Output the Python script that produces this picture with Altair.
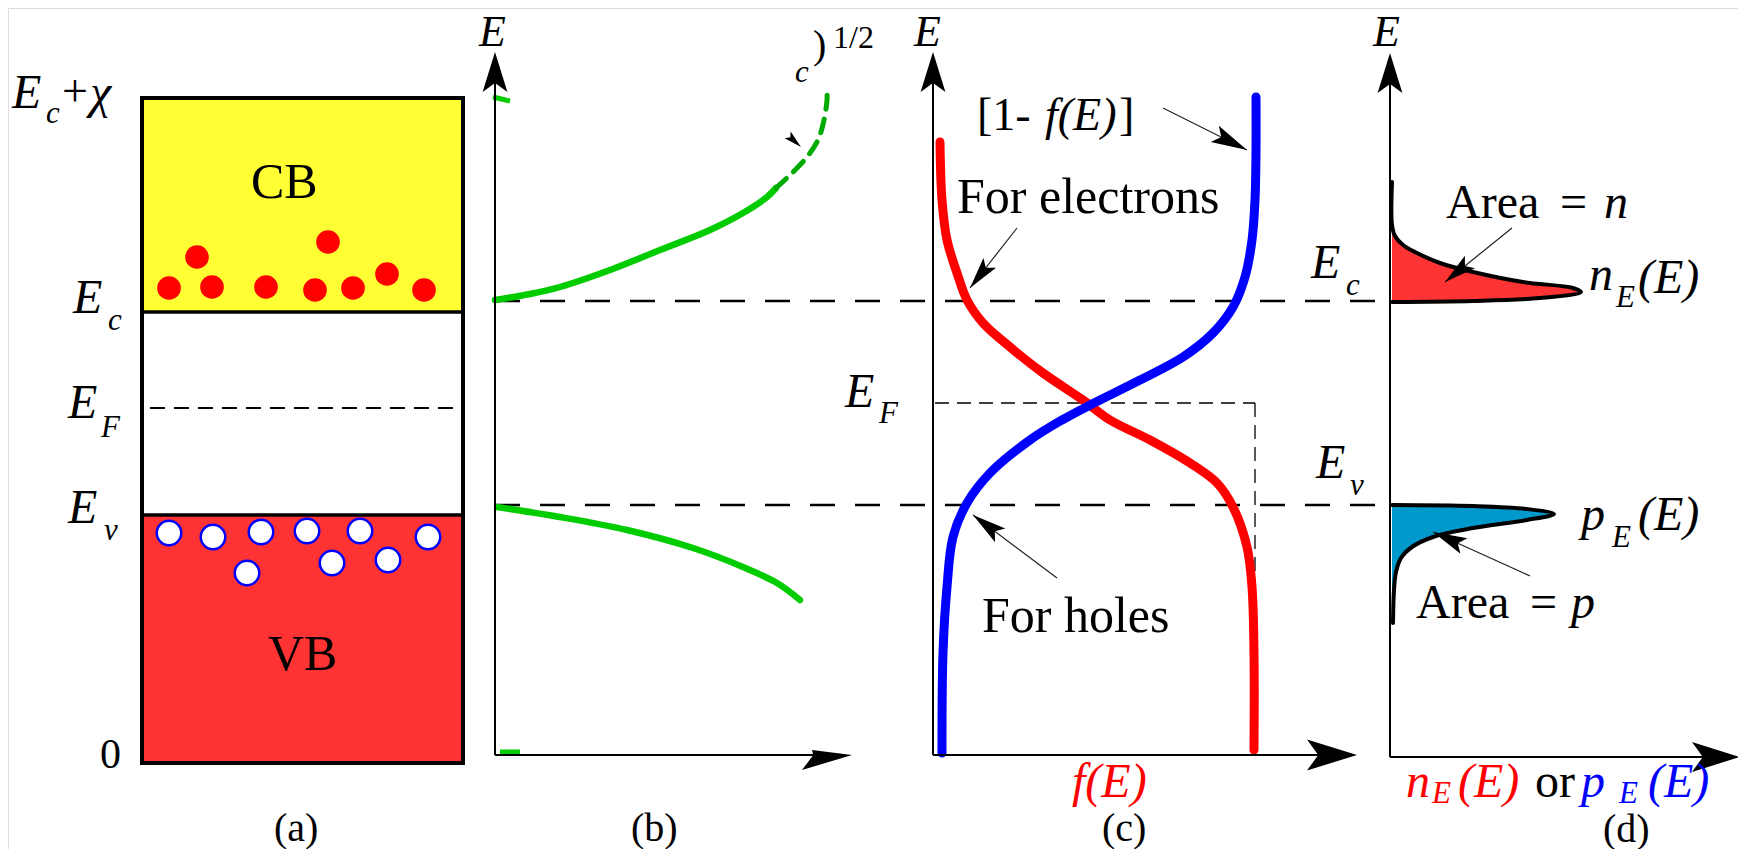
import math
import altair as alt
import pandas as pd

# ---------------- values (figure units, y pointing down) ----------------
# (a) band diagram: electrons in the CB, holes in the VB
electron_x = [169, 197, 212, 266, 315, 328, 353, 387, 424]
electron_y = [288, 257, 287, 287, 290, 242, 288, 274, 290]
hole_x = [169, 213, 261, 307, 360, 428, 247, 332, 388]
hole_y = [533, 537, 532, 531, 531, 537, 573, 563, 560]

# (b) density of states g(E)
gc_solid_x = [495, 530, 560, 610, 660, 710, 743, 767, 776]
gc_solid_y = [300, 294, 287, 270, 250, 230, 213, 197, 188]
gc_dash_x = [776, 790, 807, 818, 824, 827, 827]
gc_dash_y = [188, 175, 157, 140, 120, 100, 90]
gv_x = [497, 560, 627, 693, 743, 777, 800]
gv_y = [507, 517, 530, 548, 567, 583, 600]

# (c) Fermi-Dirac f(E) and 1 - f(E)
fe_x = [940, 942, 947, 957, 967, 983, 1010, 1043, 1083, 1110, 1150, 1190, 1217, 1233, 1247, 1252, 1254, 1254]
fe_y = [142, 200, 240, 273, 300, 323, 347, 373, 400, 420, 440, 463, 483, 507, 547, 587, 653, 750]
fh_x = [1256, 1256, 1255, 1252, 1245, 1233, 1213, 1183, 1140, 1092, 1062, 1030, 990, 967, 953, 947, 943, 942]
fh_y = [97, 150, 200, 240, 277, 307, 333, 357, 380, 404, 420, 440, 473, 503, 537, 587, 653, 753]

# (d) carrier distributions n_E(E), p_E(E)
nE_x = [1392, 1392, 1395, 1403, 1415, 1440, 1473, 1523, 1573, 1581, 1540, 1473, 1392]
nE_y = [182, 225, 236, 245, 252, 263, 272, 282, 288, 292, 298, 301, 302]
pE_x = [1392, 1473, 1527, 1554, 1527, 1473, 1433, 1412, 1401, 1396, 1394, 1393]
pE_y = [505, 506, 509, 514, 520, 528, 537, 547, 558, 572, 590, 623]

# ---------------- layout ----------------
FONT = "Liberation Serif"
W, H = 1730, 841
xs = alt.Scale(domain=[8, 8 + W], nice=False, zero=False)
ys = alt.Scale(domain=[8, 8 + H], nice=False, zero=False, reverse=True)


def X(f):
    return alt.X(f, type="quantitative", scale=xs, axis=None)


def Y(f):
    return alt.Y(f, type="quantitative", scale=ys, axis=None)


layers = []

# band box fills
box = pd.DataFrame({
    "x1": [142, 142, 142], "x2": [463, 463, 463],
    "y1": [98, 312, 515], "y2": [312, 515, 763],
    "fill": ["#ffff33", "#ffffff", "#ff3333"],
})
layers.append(alt.Chart(box).mark_rect().encode(
    x=X("x1"), x2="x2", y=Y("y1"), y2="y2", color=alt.Color("fill:N", scale=None)))

# electrons and holes
layers.append(alt.Chart(pd.DataFrame({"x": electron_x, "y": electron_y})).mark_point(
    shape="circle", filled=True, color="#ff0000", size=560, opacity=1).encode(x=X("x"), y=Y("y")))
layers.append(alt.Chart(pd.DataFrame({"x": hole_x, "y": hole_y})).mark_point(
    shape="circle", filled=True, fill="#ffffff", stroke="#0000ff", strokeWidth=2.5, size=600,
    opacity=1).encode(x=X("x"), y=Y("y")))

# box outline
layers.append(alt.Chart(pd.DataFrame({"x1": [142], "x2": [463], "y1": [98], "y2": [763]})).mark_rect(
    fillOpacity=0, stroke="black", strokeWidth=4).encode(x=X("x1"), x2="x2", y=Y("y1"), y2="y2"))


def segs(rows):
    return pd.DataFrame(rows, columns=["x1", "y1", "x2", "y2"])


def rule_layer(rows, **kw):
    return alt.Chart(segs(rows)).mark_rule(**kw).encode(x=X("x1"), y=Y("y1"), x2="x2", y2="y2")


# band edges in the box
layers.append(rule_layer([(142, 312, 463, 312), (142, 515, 463, 515)], color="black", strokeWidth=3.5))
layers.append(rule_layer([(150, 408, 460, 408)], color="black", strokeWidth=2, strokeDash=[15, 9]))
# long dashed Ec / Ev lines
layers.append(rule_layer([(495, 301, 1390, 301), (495, 505, 1390, 505)], color="black",
                         strokeWidth=2.5, strokeDash=[25, 20]))
# thin EF guide in (c)
layers.append(rule_layer([(935, 403, 1255, 403), (1255, 403, 1255, 755)], color="black",
                         strokeWidth=1.3, strokeDash=[14, 8]))


def curve_df(xv, yv):
    return pd.DataFrame({"x": xv, "y": yv, "i": list(range(len(xv)))})


def curve(xv, yv, interp="catmull-rom", **kw):
    return alt.Chart(curve_df(xv, yv)).mark_line(strokeCap="round", strokeJoin="round",
                                                 interpolate=interp, **kw).encode(
        x=X("x"), y=Y("y"), order=alt.Order("i:Q"))


# (d) filled areas
layers.append(alt.Chart(pd.DataFrame({"x": nE_x[1:], "y": nE_y[1:], "a": [1392] * (len(nE_x) - 1)}))
              .mark_area(orient="horizontal", color="#ff3333", opacity=1, interpolate="catmull-rom")
              .encode(y=Y("y"), x=X("x"), x2="a"))
layers.append(alt.Chart(pd.DataFrame({"x": pE_x[:-1], "y": pE_y[:-1], "a": [1392] * (len(pE_x) - 1)}))
              .mark_area(orient="horizontal", color="#0099cc", opacity=1, interpolate="catmull-rom")
              .encode(y=Y("y"), x=X("x"), x2="a"))

# curves
layers.append(curve(gc_solid_x, gc_solid_y, color="#00cc00", strokeWidth=6.5))
layers.append(curve(gc_dash_x, gc_dash_y, color="#00aa00", strokeWidth=5, strokeDash=[14, 10]))
layers.append(curve(gv_x, gv_y, color="#00cc00", strokeWidth=6.5))
layers.append(rule_layer([(493, 97, 510, 101), (500, 752, 520, 752)], color="#00cc00", strokeWidth=5))
layers.append(curve(fe_x, fe_y, color="#ff0000", strokeWidth=9))
layers.append(curve(fh_x, fh_y, color="#0000ff", strokeWidth=9))
layers.append(curve(nE_x, nE_y, color="black", strokeWidth=4))
layers.append(curve(pE_x, pE_y, color="black", strokeWidth=4))

# axes
layers.append(rule_layer([
    (495, 80, 495, 755), (495, 755, 830, 755),
    (933, 80, 933, 755), (933, 755, 1330, 755),
    (1390, 80, 1390, 757), (1390, 757, 1715, 757),
], color="black", strokeWidth=2))

# annotation arrows (start -> tip, head length)
annot = [
    (1163, 108, 1247, 150, 36),
    (1017, 228, 970, 288, 32),
    (1057, 578, 973, 515, 34),
    (1512, 228, 1445, 282, 32),
    (1530, 576, 1433, 532, 34),
]
layers.append(rule_layer([(a[0], a[1], a[2], a[3]) for a in annot], color="#222222", strokeWidth=1.2))


def head_rows(items):
    rows = []
    for (tx, ty, dx, dy, L) in items:
        n = math.hypot(dx, dy)
        ux, uy = dx / n, dy / n
        ang = math.degrees(math.atan2(ux, -uy)) % 360
        rows.append({"x": tx - ux * L / 2, "y": ty - uy * L / 2, "angle": ang, "size": L * L})
    return pd.DataFrame(rows)


def head_layer(items, shape):
    return alt.Chart(head_rows(items)).mark_point(shape=shape, filled=True, color="black", opacity=1,
                                                  strokeWidth=0).encode(
        x=X("x"), y=Y("y"), angle=alt.Angle("angle:Q", scale=None), size=alt.Size("size:Q", scale=None))


ARROW = "M0,-1L0.62,1L0,0.55L-0.62,1Z"
THIN = "M0,-1L0.5,1L0,0.6L-0.5,1Z"
HARPOON = "M0,-1L0.6,1L0,0.55L-0.2,0.6Z"
layers.append(head_layer([
    (495, 52, 0, -1, 40), (933, 52, 0, -1, 40), (1390, 53, 0, -1, 40),
    (1357, 755, 1, 0, 50), (1740, 757, 1, 0, 48),
], ARROW))
layers.append(head_layer([(852, 755, 1, 0, 50)], HARPOON))
layers.append(head_layer([(a[2], a[3], a[2] - a[0], a[3] - a[1], a[4]) for a in annot]
                         + [(801, 147, 1, 0.9, 18)], THIN))

# text labels: (text, x, baseline y, size, colour, italic)
BK, RD, BL = "#000000", "#ff0000", "#0000ff"
B, S = 48, 31
labels = [
    ("E", 12, 108, B, BK, True), ("c", 46, 123, S, BK, True), ("+", 62, 106, 46, BK, False),
    ("χ", 90, 108, B, BK, True),
    ("CB", 251, 198, 50, BK, False),
    ("E", 73, 313, B, BK, True), ("c", 108, 330, S, BK, True),
    ("E", 68, 418, B, BK, True), ("F", 101, 437, S, BK, True),
    ("E", 68, 523, B, BK, True), ("v", 104, 540, S, BK, True),
    ("VB", 268, 670, 50, BK, False),
    ("0", 100, 768, 42, BK, False),
    ("(a)", 274, 841, 40, BK, False),
    ("E", 479, 46, 44, BK, True),
    ("c", 795, 82, S, BK, True), (")", 813, 58, 40, BK, False), ("1/2", 833, 48, 32, BK, False),
    ("(b)", 631, 841, 40, BK, False),
    ("E", 914, 46, 44, BK, True),
    ("[1-", 977, 130, 46, BK, False), ("f(E)", 1045, 130, 46, BK, True), ("]", 1119, 130, 46, BK, False),
    ("For electrons", 957, 213, 50, BK, False),
    ("For holes", 982, 632, 50, BK, False),
    ("E", 845, 407, B, BK, True), ("F", 879, 423, S, BK, True),
    ("E", 1311, 278, B, BK, True), ("c", 1346, 295, S, BK, True),
    ("E", 1316, 478, B, BK, True), ("v", 1350, 495, S, BK, True),
    ("f(E)", 1072, 797, B, RD, True),
    ("(c)", 1102, 841, 40, BK, False),
    ("E", 1373, 46, 44, BK, True),
    ("Area", 1446, 218, B, BK, False), ("=", 1560, 218, B, BK, False), ("n", 1604, 218, B, BK, True),
    ("n", 1589, 290, B, BK, True), ("E", 1616, 307, S, BK, True), ("(E)", 1638, 293, B, BK, True),
    ("p", 1581, 530, B, BK, True), ("E", 1612, 547, S, BK, True), ("(E)", 1638, 530, B, BK, True),
    ("Area", 1416, 618, B, BK, False), ("=", 1530, 618, B, BK, False), ("p", 1571, 618, B, BK, True),
    ("n", 1406, 797, B, RD, True), ("E", 1432, 803, S, RD, True), ("(E)", 1458, 797, B, RD, True),
    ("or", 1535, 797, B, BK, False),
    ("p", 1581, 797, B, BL, True), ("E", 1619, 803, S, BL, True), ("(E)", 1648, 797, B, BL, True),
    ("(d)", 1603, 842, 40, BK, False),
]
lab = pd.DataFrame(labels, columns=["t", "x", "y", "s", "c", "it"])
for italic in (False, True):
    sub = lab[lab["it"] == italic].drop(columns=["it"])
    layers.append(alt.Chart(sub).mark_text(
        font=FONT, fontStyle="italic" if italic else "normal", align="left", baseline="alphabetic").encode(
        x=X("x"), y=Y("y"), text="t:N", size=alt.Size("s:Q", scale=None), color=alt.Color("c:N", scale=None)))

chart = alt.layer(*layers).properties(width=W, height=H, padding=0, autosize=alt.AutoSizeParams(type="none")) \
    .configure_view(stroke=None).configure(background="white")

chart.save("out.html", embed_options={"renderer": "svg", "actions": False})
